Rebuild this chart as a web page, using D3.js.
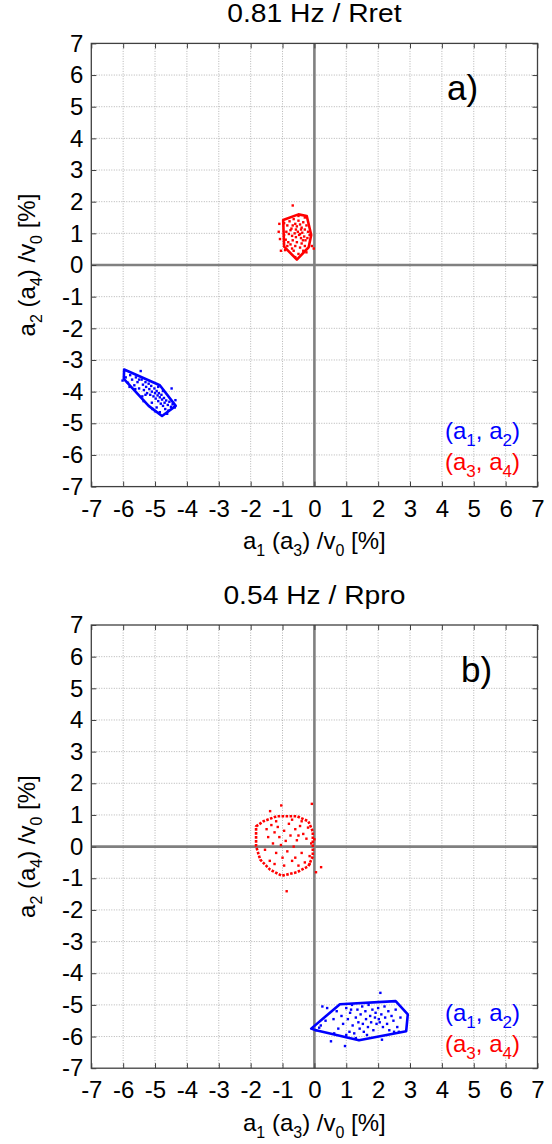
<!DOCTYPE html>
<html>
<head>
<meta charset="utf-8">
<script src="https://cdn.jsdelivr.net/npm/d3@7"></script>
<style>
body { margin: 0; background: #fff; }
text { font-family: "Liberation Sans", Arial, sans-serif; }
</style>
</head>
<body>
<div id="chart"></div>
<script>
// tick values (same on both axes, both panels)
var ticks = [-7, -6, -5, -4, -3, -2, -1, 0, 1, 2, 3, 4, 5, 6, 7];

// panel a) 0.81 Hz / Rret
var blueHullA = [[-5.97, -3.3], [-4.85, -3.8], [-4.35, -4.45], [-4.78, -4.77], [-5.2, -4.45], [-5.98, -3.6]];
var bluePointsA = [[-6.02, -3.65], [-5.92, -3.55], [-5.85, -3.72], [-5.78, -3.48], [-5.72, -3.62], [-5.65, -3.8],
  [-5.6, -3.55], [-5.55, -3.7], [-5.5, -3.9], [-5.45, -3.35], [-5.42, -3.62], [-5.38, -3.78], [-5.35, -3.95],
  [-5.3, -3.7], [-5.28, -3.85], [-5.25, -4.05], [-5.2, -3.75], [-5.18, -3.92], [-5.15, -4.1], [-5.12, -3.82],
  [-5.1, -4.0], [-5.05, -4.15], [-5.02, -3.9], [-5.0, -4.05], [-4.98, -4.22], [-4.95, -3.98], [-4.92, -4.12],
  [-4.9, -4.3], [-4.88, -4.05], [-4.85, -4.18], [-4.82, -4.38], [-4.8, -4.1], [-4.78, -4.25], [-4.75, -4.45],
  [-4.72, -4.2], [-4.7, -4.35], [-4.68, -4.55], [-4.65, -4.28], [-4.6, -4.42], [-4.58, -4.6], [-4.55, -4.32],
  [-4.5, -4.48], [-4.48, -3.9], [-4.45, -4.4], [-4.38, -4.5], [-4.36, -4.27], [-4.85, -4.65], [-4.95, -4.5],
  [-5.1, -4.35], [-5.3, -4.1], [-5.5, -3.62], [-5.62, -3.92], [-5.8, -3.85], [-5.08, -4.55], [-4.62, -4.7],
  [-5.4, -4.15], [-4.75, -3.98], [-4.9, -3.85], [-5.0, -4.62], [-5.36, -4.3]];
var redHullA = [[-0.98, 1.42], [-0.5, 1.6], [-0.24, 1.55], [-0.1, 0.95], [-0.18, 0.56], [-0.55, 0.17], [-0.95, 0.58]];
var redPointsA = [[-0.68, 1.88], [-1.1, 1.3], [-1.12, 1.05], [-1.08, 0.82], [-1.05, 0.45], [-0.92, 0.47],
  [-0.02, 0.52], [-0.08, 0.6], [-0.95, 1.32], [-0.85, 1.25], [-0.78, 1.38], [-0.72, 1.15], [-0.65, 1.45],
  [-0.6, 1.3], [-0.55, 1.22], [-0.5, 1.4], [-0.45, 1.28], [-0.4, 1.18], [-0.35, 1.35], [-0.3, 1.12],
  [-0.25, 1.25], [-0.2, 1.05], [-0.15, 0.95], [-0.88, 1.05], [-0.8, 0.98], [-0.7, 0.92], [-0.62, 1.0],
  [-0.58, 0.88], [-0.52, 1.05], [-0.48, 0.95], [-0.42, 0.85], [-0.38, 1.02], [-0.32, 0.9], [-0.28, 0.78],
  [-0.22, 0.85], [-0.9, 0.8], [-0.82, 0.72], [-0.75, 0.65], [-0.68, 0.78], [-0.6, 0.6], [-0.55, 0.72],
  [-0.45, 0.55], [-0.4, 0.68], [-0.35, 0.45], [-0.5, 0.35], [-0.3, 0.6], [-0.65, 0.45], [-0.75, 1.1],
  [-0.58, 1.12], [-0.42, 1.12], [-0.6, 0.25], [-0.25, 0.4], [-0.85, 0.6], [-0.5, 1.55], [-0.3, 1.5],
  [-0.95, 0.95], [-0.68, 1.25], [-0.45, 0.98], [-0.36, 0.78], [-0.7, 0.52]];

// panel b) 0.54 Hz / Rpro
var blueHullB = [[-0.1, -5.75], [0.8, -4.98], [2.55, -4.88], [2.93, -5.3], [2.88, -5.83], [1.4, -6.12], [0.05, -5.8]];
var bluePointsB = [[-0.05, -5.75], [0.05, -5.8], [0.2, -5.65], [0.25, -5.05], [0.4, -5.1], [0.35, -5.5],
  [0.52, -6.15], [0.6, -5.45], [0.7, -5.2], [0.75, -5.75], [0.85, -5.35], [0.9, -5.6], [0.96, -6.3],
  [1.0, -5.1], [1.05, -5.45], [1.1, -5.85], [1.12, -5.25], [1.18, -5.0], [1.2, -5.65], [1.25, -5.9],
  [1.3, -5.4], [1.35, -5.15], [1.38, -5.55], [1.42, -5.75], [1.45, -5.3], [1.5, -5.05], [1.52, -5.6],
  [1.55, -5.85], [1.6, -5.2], [1.62, -5.45], [1.68, -5.7], [1.7, -5.0], [1.75, -5.35], [1.78, -5.55],
  [1.82, -5.15], [1.85, -5.8], [1.9, -5.4], [1.92, -5.25], [1.95, -5.6], [2.0, -5.1], [2.02, -5.45],
  [2.05, -5.55], [2.07, -4.62], [2.1, -5.3], [2.12, -6.1], [2.15, -5.7], [2.2, -5.05], [2.22, -5.4],
  [2.28, -5.6], [2.32, -5.2], [2.35, -5.8], [2.42, -5.35], [2.48, -5.5], [2.55, -5.15], [2.6, -5.7],
  [2.65, -5.85], [2.7, -5.4], [0.15, -5.72], [1.15, -5.15], [1.65, -5.95], [1.0, -5.95], [0.62, -5.9],
  [2.5, -5.85], [1.3, -6.05]];
var redHullB = [[-1.83, 0.64], [-1.6, 0.8], [-1.18, 0.96], [-0.55, 0.96], [-0.19, 0.8], [-0.05, 0.48],
  [-0.05, -0.31], [-0.19, -0.62], [-0.55, -0.81], [-1.02, -0.92], [-1.39, -0.73], [-1.7, -0.41], [-1.83, 0.01]];
var redPointsB = [[-1.04, 1.3], [-0.08, 1.35], [-1.39, 1.12], [-0.87, -1.41], [0.21, -0.65], [0.05, -0.81],
  [0.0, 0.23], [-1.5, 0.55], [-1.45, 0.3], [-1.35, 0.68], [-1.3, 0.1], [-1.25, 0.45], [-1.2, -0.2],
  [-1.15, 0.62], [-1.1, 0.3], [-1.05, 0.05], [-1.0, -0.35], [-0.95, 0.5], [-0.9, 0.18], [-0.85, -0.15],
  [-0.8, 0.72], [-0.75, 0.35], [-0.7, -0.45], [-0.65, 0.0], [-0.6, 0.55], [-0.55, 0.2], [-0.5, -0.6],
  [-0.45, 0.65], [-0.4, -0.2], [-0.35, 0.4], [-0.3, -0.5], [-0.25, 0.25], [-0.2, 0.6], [-0.15, -0.3],
  [-0.1, 0.1], [-1.55, -0.1], [-1.4, -0.45], [-1.25, -0.55], [-0.6, -0.35], [-0.95, -0.6], [-0.7, 0.85],
  [-0.4, 0.8], [-0.15, -0.55], [-1.2, 0.8], [-0.5, 0.35]];

// labels
var xLabelParts = [["a", 0], ["1", 1], [" (a", 0], ["3", 1], [") /v", 0], ["0", 1], [" [%]", 0]];
var yLabelParts = [["a", 0], ["2", 1], [" (a", 0], ["4", 1], [") /v", 0], ["0", 1], [" [%]", 0]];
var blueLegendParts = [["(a", 0], ["1", 1], [", a", 0], ["2", 1], [")", 0]];
var redLegendParts = [["(a", 0], ["3", 1], [", a", 0], ["4", 1], [")", 0]];

// geometry
var plotLeft = 91.3, plotW = 446.2, plotH = 443.2;
var frameColor = "#404040";

var svg = d3.select("#chart").append("svg")
  .attr("width", 552)
  .attr("height", 1144);

var x = d3.scaleLinear().domain([-7, 7]).range([0, plotW]);
var y = d3.scaleLinear().domain([-7, 7]).range([plotH, 0]);

var hullLine = d3.line()
  .x(function(d) { return x(d[0]); })
  .y(function(d) { return y(d[1]); })
  .curve(d3.curveLinearClosed);

// text with subscripts
function richText(sel, parts, subSize, shift) {
  var down = false;
  parts.forEach(function(p) {
    var t = sel.append("tspan").text(p[0]);
    if (p[1]) {
      t.attr("font-size", subSize).attr("dy", down ? 0 : shift);
      down = true;
    } else {
      if (down) t.attr("dy", -shift);
      down = false;
    }
  });
}

function styleAxis(a) {
  a.select(".domain").remove();
  a.selectAll(".tick line").attr("stroke", frameColor);
  a.selectAll("text").attr("font-size", "24px").attr("fill", "#000")
    .attr("font-family", "'Liberation Sans', Arial, sans-serif");
}

function drawPanel(top, title, letter, letterX, blueHull, bluePts, redHull, redPts, redDotted) {
  var g = svg.append("g").attr("transform", "translate(" + plotLeft + "," + top + ")");
  var inner = ticks.filter(function(t) { return t > -7 && t < 7 && t !== 0; });

  // dotted grid
  g.selectAll(".gx").data(inner).enter().append("line")
    .attr("x1", function(d) { return x(d); }).attr("x2", function(d) { return x(d); })
    .attr("y1", 0).attr("y2", plotH)
    .attr("stroke", "#b4b4b4").attr("stroke-width", 1).attr("stroke-dasharray", "1,1.5");
  g.selectAll(".gy").data(inner).enter().append("line")
    .attr("y1", function(d) { return y(d); }).attr("y2", function(d) { return y(d); })
    .attr("x1", 0).attr("x2", plotW)
    .attr("stroke", "#b4b4b4").attr("stroke-width", 1).attr("stroke-dasharray", "1,1.5");

  // zero lines
  g.append("line").attr("x1", x(0)).attr("x2", x(0)).attr("y1", 0).attr("y2", plotH)
    .attr("stroke", "#808080").attr("stroke-width", 2.6);
  g.append("line").attr("y1", y(0)).attr("y2", y(0)).attr("x1", 0).attr("x2", plotW)
    .attr("stroke", "#808080").attr("stroke-width", 2.6);

  // hulls
  g.append("path").attr("d", hullLine(blueHull))
    .attr("fill", "none").attr("stroke", "#0000ff").attr("stroke-width", 2.6)
    .attr("stroke-linejoin", "round");
  var rh = g.append("path").attr("d", hullLine(redHull))
    .attr("fill", "none").attr("stroke", "#ff0000").attr("stroke-width", 2.6)
    .attr("stroke-linejoin", "round");
  if (redDotted) rh.attr("stroke-dasharray", "2.6,1.4");

  // points
  g.selectAll(".bp").data(bluePts).enter().append("rect")
    .attr("x", function(d) { return x(d[0]) - 1.2; })
    .attr("y", function(d) { return y(d[1]) - 1.2; })
    .attr("width", 2.4).attr("height", 2.4).attr("fill", "#0000ff");
  g.selectAll(".rp").data(redPts).enter().append("rect")
    .attr("x", function(d) { return x(d[0]) - 1.2; })
    .attr("y", function(d) { return y(d[1]) - 1.2; })
    .attr("width", 2.4).attr("height", 2.4).attr("fill", "#ff0000");

  // frame
  g.append("rect").attr("width", plotW).attr("height", plotH)
    .attr("fill", "none").attr("stroke", frameColor).attr("stroke-width", 1.3);

  // axes, ticks inward
  var fmt = function(d) { return String(d); };
  g.append("g").attr("transform", "translate(0," + plotH + ")")
    .call(d3.axisBottom(x).tickValues(ticks).tickSizeInner(-5).tickSizeOuter(0).tickPadding(13).tickFormat(fmt))
    .call(styleAxis);
  g.append("g")
    .call(d3.axisLeft(y).tickValues(ticks).tickSizeInner(-5).tickSizeOuter(0).tickPadding(8).tickFormat(fmt))
    .call(styleAxis);
  g.append("g")
    .call(d3.axisTop(x).tickValues(ticks).tickSizeInner(-5).tickSizeOuter(0).tickFormat(""))
    .call(styleAxis);
  g.append("g").attr("transform", "translate(" + plotW + ",0)")
    .call(d3.axisRight(y).tickValues(ticks).tickSizeInner(-5).tickSizeOuter(0).tickFormat(""))
    .call(styleAxis);

  // title
  g.append("text")
    .attr("transform", "translate(" + (plotW / 2) + "," + (-21.4) + ") scale(1.13,1)")
    .attr("text-anchor", "middle")
    .attr("font-size", "25px")
    .text(title);

  // axis labels
  var xl = g.append("text")
    .attr("x", plotW / 2).attr("y", plotH + 62.4)
    .attr("text-anchor", "middle").attr("font-size", "24px");
  richText(xl, xLabelParts, "16px", 7);

  var yl = g.append("text")
    .attr("transform", "translate(-56.3," + (plotH / 2) + ") rotate(-90)")
    .attr("text-anchor", "middle").attr("font-size", "24px");
  richText(yl, yLabelParts, "16px", 7);

  // legend
  var lb = g.append("text").attr("x", 428.7).attr("y", 395.6)
    .attr("text-anchor", "end").attr("font-size", "24px").attr("fill", "#0000ff");
  richText(lb, blueLegendParts, "17px", 7);
  var lr = g.append("text").attr("x", 428.7).attr("y", 426.6)
    .attr("text-anchor", "end").attr("font-size", "24px").attr("fill", "#ff0000");
  richText(lr, redLegendParts, "17px", 7);

  // panel letter
  g.append("text")
    .attr("x", letterX - plotLeft).attr("y", 57)
    .attr("font-family", "'Open Sans', sans-serif")
    .attr("font-size", "35px")
    .text(letter);
}

drawPanel(43.4, "0.81 Hz / Rret", "a)", 447, blueHullA, bluePointsA, redHullA, redPointsA, false);
drawPanel(625, "0.54 Hz / Rpro", "b)", 461, blueHullB, bluePointsB, redHullB, redPointsB, true);
</script>
</body>
</html>
